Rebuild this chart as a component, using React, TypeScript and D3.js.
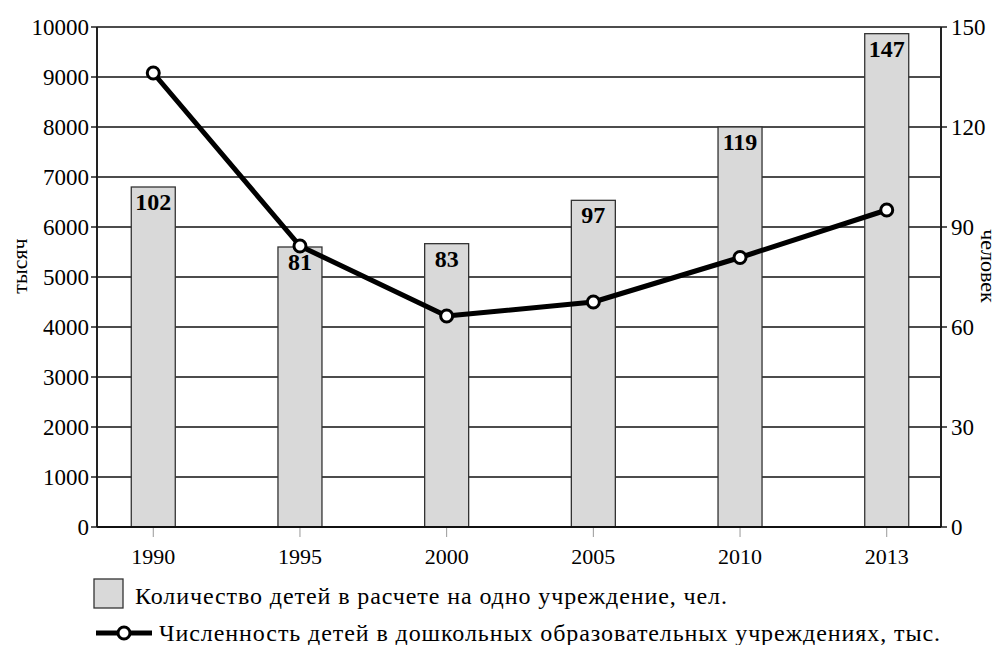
import React from 'react';
import * as d3 from 'd3';

const years = ['1990', '1995', '2000', '2005', '2010', '2013'];
// bars, right axis (человек) - heights as drawn, and printed labels
const perInstitution = [102, 84, 85, 98, 120, 148];
const barLabels = ['102', '81', '83', '97', '119', '147'];
// line, left axis (тысяч)
const children = [9080, 5620, 4220, 4500, 5390, 6340];
const leftTicks = [0, 1000, 2000, 3000, 4000, 5000, 6000, 7000, 8000, 9000, 10000];
const rightTicks = [0, 30, 60, 90, 120, 150];

const W = 1000;
const H = 645;
const font = "'Liberation Serif', 'DejaVu Serif', serif";

const T = (props: any) => <text fontFamily={font} fill="#000" {...props} />;

export default function App() {
  const left = 97, right = 941, top = 27, bottom = 527;

  const x = d3.scalePoint<string>().domain(years).range([left + 2, right]).padding(0.37);
  const yL = d3.scaleLinear().domain([0, 10000]).range([bottom, top]);
  const yR = d3.scaleLinear().domain([0, 150]).range([bottom, top]);
  const barW = 44;

  const line = d3.line<number>()
    .x((d, i) => x(years[i])!)
    .y(d => yL(d));

  return (
    <svg width={W} height={H} style={{position: 'absolute', left: 0, top: 0, background: '#fff'}}>
      {/* grid */}
      {leftTicks.slice(1).map(t => (
        <line key={t} x1={left} x2={right} y1={yL(t)} y2={yL(t)} stroke="#111" strokeWidth={1.4}/>
      ))}
      {/* bars */}
      {perInstitution.map((v, i) => (
        <g key={years[i]}>
          <rect x={x(years[i])! - barW / 2} y={yR(v)} width={barW} height={bottom - yR(v)}
                fill="#d9d9d9" stroke="#333" strokeWidth={1.3}/>
          <T x={x(years[i])!} y={yR(v) + 23} textAnchor="middle" fontWeight="bold" fontSize={24}>{barLabels[i]}</T>
        </g>
      ))}
      {/* axes */}
      <line x1={left} x2={left} y1={top} y2={bottom} stroke="#222" strokeWidth={2}/>
      <line x1={right} x2={right} y1={top} y2={bottom} stroke="#222" strokeWidth={2}/>
      <line x1={left} x2={right} y1={bottom} y2={bottom} stroke="#111" strokeWidth={2.2}/>
      {leftTicks.map(t => (
        <g key={t}>
          <line x1={left - 6} x2={left} y1={yL(t)} y2={yL(t)} stroke="#111" strokeWidth={1.4}/>
          <T x={left - 8} y={yL(t) + 8} textAnchor="end" fontSize={23}>{t}</T>
        </g>
      ))}
      {rightTicks.map(t => (
        <g key={t}>
          <line x1={right} x2={right + 6} y1={yR(t)} y2={yR(t)} stroke="#111" strokeWidth={1.4}/>
          <T x={right + 10} y={yR(t) + 8} textAnchor="start" fontSize={23}>{t}</T>
        </g>
      ))}
      {years.map(yr => (
        <g key={yr}>
          <line x1={x(yr)!} x2={x(yr)!} y1={bottom + 1} y2={bottom + 10} stroke="#999" strokeWidth={1}/>
          <T x={x(yr)!} y={bottom + 37} textAnchor="middle" fontSize={22}>{yr}</T>
        </g>
      ))}
      <T transform={`translate(27,266) rotate(-90)`} textAnchor="middle" fontSize={22}>тысяч</T>
      <T transform={`translate(981,266) rotate(90)`} textAnchor="middle" fontSize={22}>человек</T>
      {/* line series */}
      <path d={line(children)!} fill="none" stroke="#000" strokeWidth={5} strokeLinejoin="round"/>
      {children.map((v, i) => (
        <circle key={i} cx={x(years[i])!} cy={yL(v)} r={6} fill="#fff" stroke="#000" strokeWidth={3}/>
      ))}
      {/* legend */}
      <rect x={94} y={579} width={29} height={29} fill="#d9d9d9" stroke="#333" strokeWidth={1.3}/>
      <T x={135} y={604} fontSize={24} textLength={592} lengthAdjust="spacing">
        Количество детей в расчете на одно учреждение, чел.
      </T>
      <line x1={96} x2={152} y1={633} y2={633} stroke="#000" strokeWidth={5}/>
      <circle cx={124} cy={633} r={6} fill="#fff" stroke="#000" strokeWidth={3}/>
      <T x={159} y={641} fontSize={24} textLength={781} lengthAdjust="spacing">
        Численность детей в дошкольных образовательных учреждениях, тыс.
      </T>
    </svg>
  );
}
